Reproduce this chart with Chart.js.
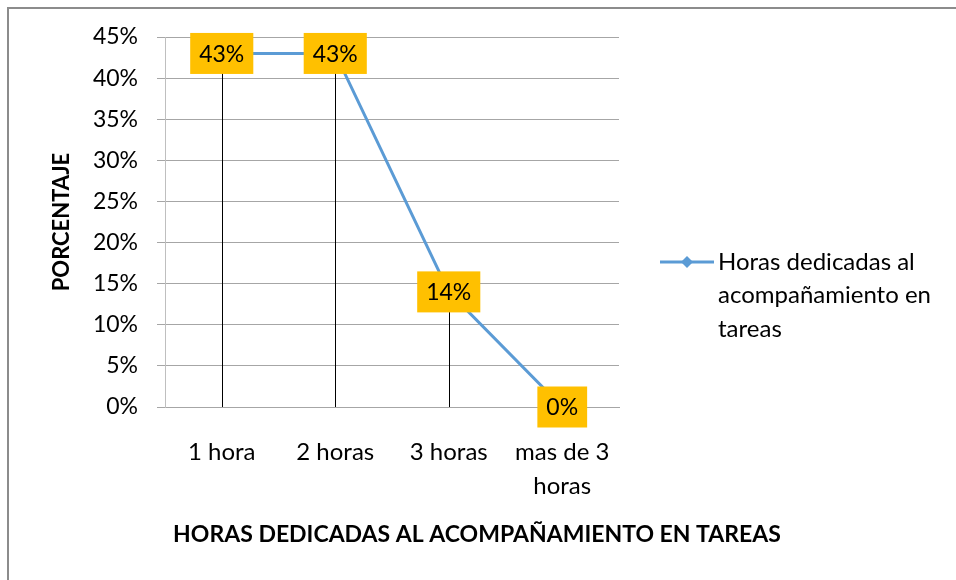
<!DOCTYPE html>
<html>
<head>
<meta charset="utf-8">
<script src="https://cdn.jsdelivr.net/npm/chart.js@4.4.0/dist/chart.umd.min.js"></script>
<style>
  html, body { margin: 0; padding: 0; background: #fff; }
  canvas { display: block; }
</style>
</head>
<body>
<canvas id="chart" width="956" height="580"></canvas>
<script>
const categories = ['1 hora', '2 horas', '3 horas', ['mas de 3', 'horas']];
const values = [43, 43, 14, 0];
const seriesName = 'Horas dedicadas al acompañamiento en tareas';
const yTitle = 'PORCENTAJE';
const xTitle = 'HORAS DEDICADAS AL ACOMPAÑAMIENTO EN TAREAS';

const FONT = 'Lato, "Open Sans", sans-serif';
const lineColor = '#5B9BD5';

const extras = {
  id: 'extras',
  beforeDraw(chart) {
    const ctx = chart.ctx;
    ctx.save();
    ctx.fillStyle = '#fff';
    ctx.fillRect(0, 0, chart.width, chart.height);
    ctx.strokeStyle = '#8c8c8c';
    ctx.lineWidth = 2;
    ctx.beginPath();
    ctx.moveTo(8, chart.height);
    ctx.lineTo(8, 8);
    ctx.lineTo(chart.width, 8);
    ctx.stroke();
    ctx.restore();
  },
  beforeDatasetsDraw(chart) {
    // drop lines from each point to the axis
    const ctx = chart.ctx;
    const bottom = chart.chartArea.bottom;
    ctx.save();
    ctx.strokeStyle = '#000';
    ctx.lineWidth = 1;
    chart.getDatasetMeta(0).data.forEach(pt => {
      const x = Math.round(pt.x) + 0.5;
      ctx.beginPath();
      ctx.moveTo(x, pt.y);
      ctx.lineTo(x, bottom);
      ctx.stroke();
    });
    ctx.restore();
  },
  afterDatasetsDraw(chart) {
    const ctx = chart.ctx;
    ctx.save();
    ctx.font = '23px ' + FONT;
    ctx.textAlign = 'center';
    ctx.textBaseline = 'middle';
    chart.getDatasetMeta(0).data.forEach((pt, i) => {
      const txt = values[i] + '%';
      const w = ctx.measureText(txt).width + 18;
      const h = 41;
      ctx.fillStyle = '#FFC000';
      ctx.fillRect(pt.x - w / 2, pt.y - h / 2, w, h);
      ctx.fillStyle = '#000';
      ctx.fillText(txt, pt.x, pt.y + 1);
    });
    ctx.restore();
  },
  afterDraw(chart) {
    const ctx = chart.ctx;
    ctx.save();
    // legend
    const ly = 262;
    ctx.strokeStyle = lineColor;
    ctx.lineWidth = 3;
    ctx.beginPath();
    ctx.moveTo(660, ly);
    ctx.lineTo(714, ly);
    ctx.stroke();
    ctx.fillStyle = lineColor;
    ctx.beginPath();
    ctx.moveTo(687, ly - 6);
    ctx.lineTo(693, ly);
    ctx.lineTo(687, ly + 6);
    ctx.lineTo(681, ly);
    ctx.closePath();
    ctx.fill();

    ctx.font = '24px ' + FONT;
    ctx.fillStyle = '#000';
    ctx.textAlign = 'left';
    ctx.textBaseline = 'middle';
    const words = chart.data.datasets[0].label.split(' ');
    const lines = [];
    let cur = '';
    words.forEach(wd => {
      const t = cur ? cur + ' ' + wd : wd;
      if (ctx.measureText(t).width > 230 && cur) { lines.push(cur); cur = wd; }
      else cur = t;
    });
    lines.push(cur);
    lines.forEach((l, i) => ctx.fillText(l, 718, ly + i * 33.5));

    // x axis title, centred on the whole chart
    ctx.font = 'bold 23px ' + FONT;
    ctx.textAlign = 'center';
    ctx.fillText(xTitle, 477, 535);
    ctx.restore();
  }
};

new Chart(document.getElementById('chart'), {
  type: 'line',
  data: {
    labels: categories,
    datasets: [{
      label: seriesName,
      data: values,
      borderColor: lineColor,
      backgroundColor: lineColor,
      borderWidth: 3,
      pointStyle: 'rectRot',
      pointRadius: 5,
      tension: 0
    }]
  },
  options: {
    responsive: false,
    animation: false,
    devicePixelRatio: 1,
    layout: { padding: { left: 0, top: 37, right: 337, bottom: 0 } },
    plugins: {
      legend: { display: false },
      tooltip: { enabled: false }
    },
    scales: {
      x: {
        offset: true,
        grid: { display: false },
        border: { display: true, color: '#a6a6a6', width: 1 },
        ticks: {
          color: '#000',
          padding: 20,
          font: { family: FONT, size: 24, lineHeight: 1.42 }
        },
        afterFit(scale) { scale.height = 173; }
      },
      y: {
        min: 0,
        max: 45,
        grid: { color: '#a6a6a6', tickLength: 8, drawTicks: true },
        border: { display: true, color: '#bfbfbf' },
        ticks: {
          stepSize: 5,
          color: '#000',
          padding: 19,
          font: { family: FONT, size: 23 },
          callback: v => v + '%'
        },
        title: {
          display: true,
          text: yTitle,
          color: '#000',
          font: { family: FONT, size: 22, weight: 'bold' },
          padding: { top: 49, bottom: 0 }
        },
        afterFit(scale) { scale.width = 165; }
      }
    }
  },
  plugins: [extras]
});
</script>
</body>
</html>
